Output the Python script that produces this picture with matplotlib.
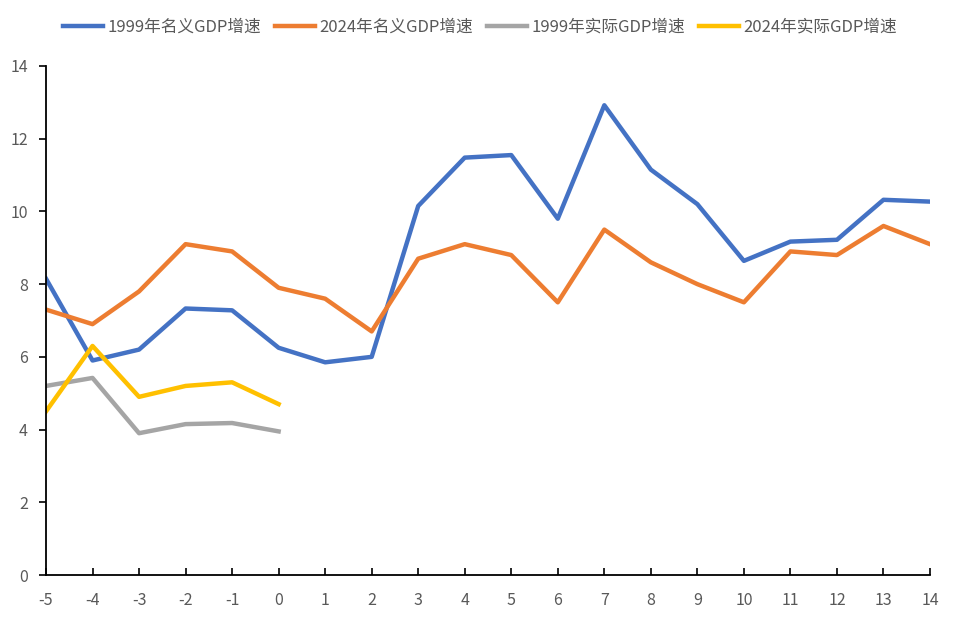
import matplotlib
matplotlib.use("Agg")
import matplotlib.pyplot as plt

plt.rcParams['font.family'] = ['Noto Sans CJK SC', 'DejaVu Sans']
plt.rcParams['axes.unicode_minus'] = False

x = list(range(-5, 15))
x_real = list(range(-5, 1))
nominal_1999 = [8.15, 5.9, 6.2, 7.33, 7.28, 6.25, 5.85, 6.0, 10.15, 11.48, 11.55, 9.8,
                12.92, 11.15, 10.2, 8.64, 9.17, 9.22, 10.32, 10.27]
nominal_2024 = [7.3, 6.9, 7.8, 9.1, 8.9, 7.9, 7.6, 6.7, 8.7, 9.1, 8.8, 7.5,
                9.5, 8.6, 8.0, 7.5, 8.9, 8.8, 9.6, 9.1]
real_1999 = [5.2, 5.42, 3.9, 4.15, 4.18, 3.95]
real_2024 = [4.5, 6.3, 4.9, 5.2, 5.3, 4.7]
labels = ['1999年名义GDP增速', '2024年名义GDP增速', '1999年实际GDP增速', '2024年实际GDP增速']
colors = ['#4472C4', '#ED7D31', '#A5A5A5', '#FFC000']

fig = plt.figure(figsize=(9.6, 6.21), dpi=100)
ax = fig.add_axes([46/960, 46/621, (930-46)/960, (575-66)/621])

ax.plot(x, nominal_1999, color=colors[0], lw=3.2, label=labels[0], solid_joinstyle='round')
ax.plot(x, nominal_2024, color=colors[1], lw=3.2, label=labels[1], solid_joinstyle='round')
ax.plot(x_real, real_1999, color=colors[2], lw=3.2, label=labels[2], solid_joinstyle='round')
ax.plot(x_real, real_2024, color=colors[3], lw=3.2, label=labels[3], solid_joinstyle='round')

ax.set_xlim(-5, 14)
ax.set_ylim(0, 14)
ax.set_xticks(x)
ax.set_yticks(range(0, 15, 2))
for s in ['top', 'right']:
    ax.spines[s].set_visible(False)
for s in ['left', 'bottom']:
    ax.spines[s].set_color('black')
    ax.spines[s].set_linewidth(1.3)
ax.tick_params(axis='x', direction='in', length=5, width=1.2, colors='black',
               labelcolor='#595959', labelsize=11.5, pad=12)
ax.tick_params(axis='y', direction='out', length=5, width=1.2, colors='black',
               labelcolor='#595959', labelsize=11.5, pad=8)

fig.legend(loc='center', bbox_to_anchor=(0.5, 1 - 27/621), ncol=4, frameon=False,
           fontsize=12, handlelength=2.4, handletextpad=0.25, columnspacing=0.85,
           labelcolor='#595959')

fig.savefig('out.png', dpi=100)
